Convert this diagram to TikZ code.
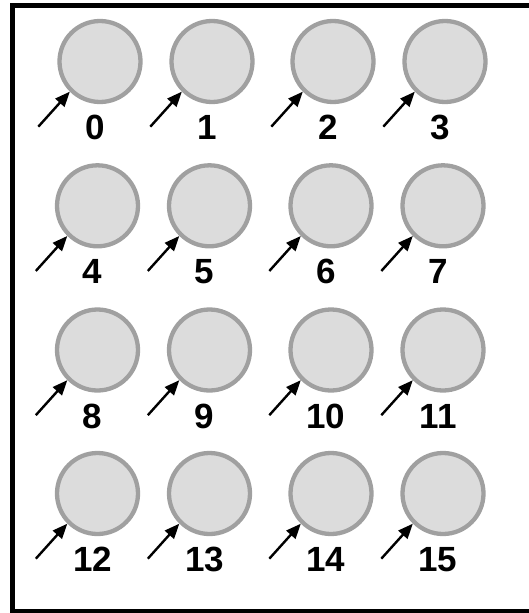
\documentclass[tikz,border=0pt]{standalone}
\usepackage{fontspec}
\setmainfont{Liberation Sans}
\usetikzlibrary{arrows.meta}
\definecolor{wellgray}{HTML}{A0A0A0}
\definecolor{wellfill}{HTML}{DCDCDC}
\begin{document}
\begin{tikzpicture}[x=1pt,y=-1pt,
  well/.style={circle,draw=wellgray,fill=wellfill,line width=4.3pt,minimum size=81pt,inner sep=0pt},
  lbl/.style={anchor=base,inner sep=0pt,font=\fontsize{35}{38}\selectfont\bfseries},
  arr/.style={line width=2.4pt,-{Triangle[length=15pt,width=12pt]}}]
\useasboundingbox (0,0) rectangle (529,613);
\clip (0,0) rectangle (529,613);
\draw[line width=4.5pt] (12.5,5.5) rectangle (600,611.5);
\foreach \i/\x/\y in {0/100/61.5,1/212/61.5,2/333/61.5,3/445/61.5,
  4/97.5/205.8,5/209.5/205.8,6/331/205.8,7/443/205.8,
  8/97.5/350,9/209.5/350,10/331/350,11/443/350,
  12/97.5/493.5,13/209.5/493.5,14/331/493.5,15/443/493.5}{
  \node[well] (c\i) at (\x,\y) {};
  \node[lbl] (l\i) at ([shift={(-5,78)}]c\i.center) {\i};
  \coordinate (t\i) at ([shift={(-31.5,35)}]c\i.south west);
  \draw[arr] (t\i) -- (c\i.south west);
}
\end{tikzpicture}
\end{document}
